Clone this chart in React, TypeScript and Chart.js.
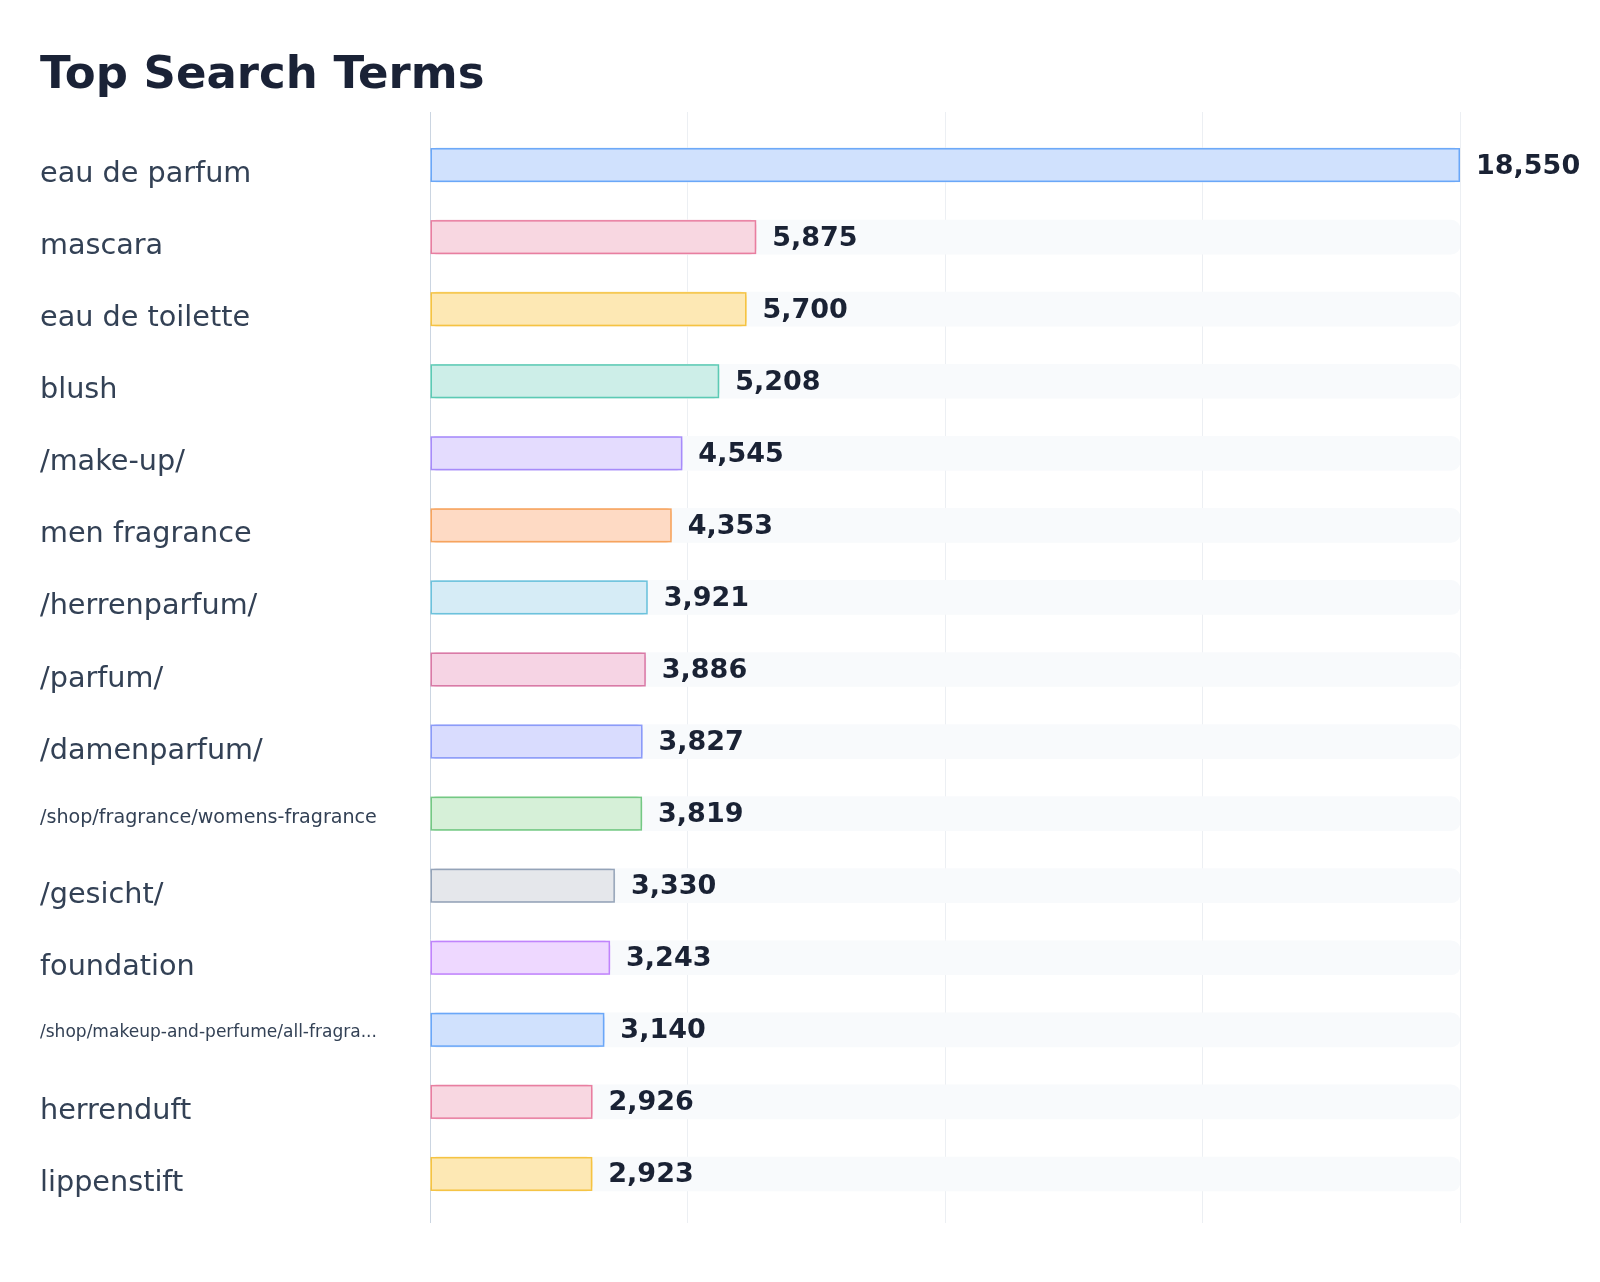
import React, { useEffect, useRef } from "react";
import { Chart, registerables } from "chart.js";

Chart.register(...registerables);

const categories = [
  "eau de parfum",
  "mascara",
  "eau de toilette",
  "blush",
  "/make-up/",
  "men fragrance",
  "/herrenparfum/",
  "/parfum/",
  "/damenparfum/",
  "/shop/fragrance/womens-fragrance",
  "/gesicht/",
  "foundation",
  "/shop/makeup-and-perfume/all-fragra...",
  "herrenduft",
  "lippenstift",
];

const searches = [18550, 5875, 5700, 5208, 4545, 4353, 3921, 3886, 3827, 3819, 3330, 3243, 3140, 2926, 2923];

const axisMax = 18550;

const fillColors = [
  "#d0e1fd", "#f8d7e1", "#fde8b4", "#cdeee8", "#e4dcfe", "#fedac4",
  "#d6ecf6", "#f6d4e4", "#d9dcfe", "#d6f0d8", "#e5e7eb", "#eed8ff",
];
const borderColors = [
  "#6aa7f8", "#e87ea0", "#f5c342", "#5ccab4", "#a78bfa", "#f6a45e",
  "#6cc2dc", "#d97aa6", "#8b9bf8", "#74c884", "#94a3b8", "#c084fc",
];

const FONT = "'DejaVu Sans', sans-serif";
const LABEL_SIZE = 28.7;
const LABEL_MAX_W = 337;

const outlinePlugin = {
  id: "barOutline",
  afterDatasetsDraw(chart: any) {
    const ctx = chart.ctx;
    const meta = chart.getDatasetMeta(0);
    ctx.save();
    meta.data.forEach((el: any, i: number) => {
      const { x, y, base, height } = el.getProps(["x", "y", "base", "height"], true);
      const lw = 1.5;
      ctx.strokeStyle = borderColors[i % borderColors.length];
      ctx.lineWidth = lw;
      ctx.strokeRect(base + lw / 2, y - height / 2 + lw / 2, x - base - lw, height - lw);
    });
    ctx.restore();
  },
};

const valueLabelPlugin = {
  id: "valueLabels",
  afterDatasetsDraw(chart: any) {
    const ctx = chart.ctx;
    const meta = chart.getDatasetMeta(0);
    ctx.save();
    ctx.font = `bold 27px ${FONT}`;
    ctx.fillStyle = "#1a2234";
    ctx.textAlign = "left";
    ctx.textBaseline = "middle";
    meta.data.forEach((el: any, i: number) => {
      const { x, y } = el.getProps(["x", "y"], true);
      ctx.fillText(searches[i].toLocaleString("en-US"), x + 16, y + 1.5);
    });
    ctx.restore();
  },
};

const categoryLabelPlugin = {
  id: "categoryLabels",
  afterDraw(chart: any) {
    const ctx = chart.ctx;
    const yScale = chart.scales.y;
    ctx.save();
    ctx.fillStyle = "#334155";
    ctx.textAlign = "left";
    ctx.textBaseline = "alphabetic";
    categories.forEach((label, i) => {
      ctx.font = `${LABEL_SIZE}px ${FONT}`;
      const w = ctx.measureText(label).width;
      const size = w > LABEL_MAX_W ? (LABEL_SIZE * LABEL_MAX_W) / w : LABEL_SIZE;
      ctx.font = `${size}px ${FONT}`;
      const cy = yScale.getPixelForValue(i);
      ctx.fillText(label, yScale.left, cy - 6.9 + 0.833 * size);
    });
    ctx.restore();
  },
};

export default function App() {
  const ref = useRef<HTMLCanvasElement>(null);

  useEffect(() => {
    if (!ref.current) return;
    const gridColor = (c: any) => (c.index === 0 ? "#cbd5e1" : "#eceff3");
    const chart = new Chart(ref.current, {
      type: "bar",
      data: {
        labels: categories,
        datasets: [
          {
            label: "Searches",
            data: searches,
            backgroundColor: categories.map((_, i) => fillColors[i % fillColors.length]),
            borderWidth: 0,
            borderRadius: 6,
            borderSkipped: false,
            barThickness: 34,
            grouped: false,
          } as any,
          {
            label: "Track",
            data: categories.map(() => axisMax),
            backgroundColor: "#f8fafc",
            borderWidth: 0,
            borderRadius: 9,
            borderSkipped: false,
            barThickness: 34,
            grouped: false,
          } as any,
        ],
      },
      options: {
        indexAxis: "y",
        animation: false,
        responsive: true,
        maintainAspectRatio: false,
        layout: { padding: { top: 32, left: 32, right: 132, bottom: 51 } },
        plugins: {
          legend: { display: false },
          tooltip: { enabled: false },
          title: {
            display: true,
            text: "Top Search Terms",
            align: "start",
            color: "#1a2236",
            font: { family: FONT, size: 45, weight: "bold" },
            padding: { top: 9, bottom: 9 },
          },
        },
        scales: {
          x: {
            type: "linear",
            position: "bottom",
            min: 0,
            max: axisMax,
            ticks: { display: false, count: 5 },
            grid: { color: gridColor, tickLength: 13, lineWidth: 1 },
            border: { display: false },
          },
          x2: {
            type: "linear",
            axis: "x",
            position: "top",
            min: 0,
            max: axisMax,
            ticks: { display: false, count: 5 },
            grid: { color: gridColor, tickLength: 17, drawOnChartArea: false, lineWidth: 1 },
            border: { display: false },
          },
          y: {
            type: "category",
            grid: { display: false },
            border: { display: false },
            ticks: { display: false },
            afterFit: (scale: any) => {
              scale.width = 390;
            },
          },
        } as any,
      },
      plugins: [outlinePlugin, valueLabelPlugin, categoryLabelPlugin],
    });
    return () => chart.destroy();
  }, []);

  return (
    <div style={{ width: 1584, height: 1266, position: "relative" }}>
      <canvas ref={ref} />
    </div>
  );
}
